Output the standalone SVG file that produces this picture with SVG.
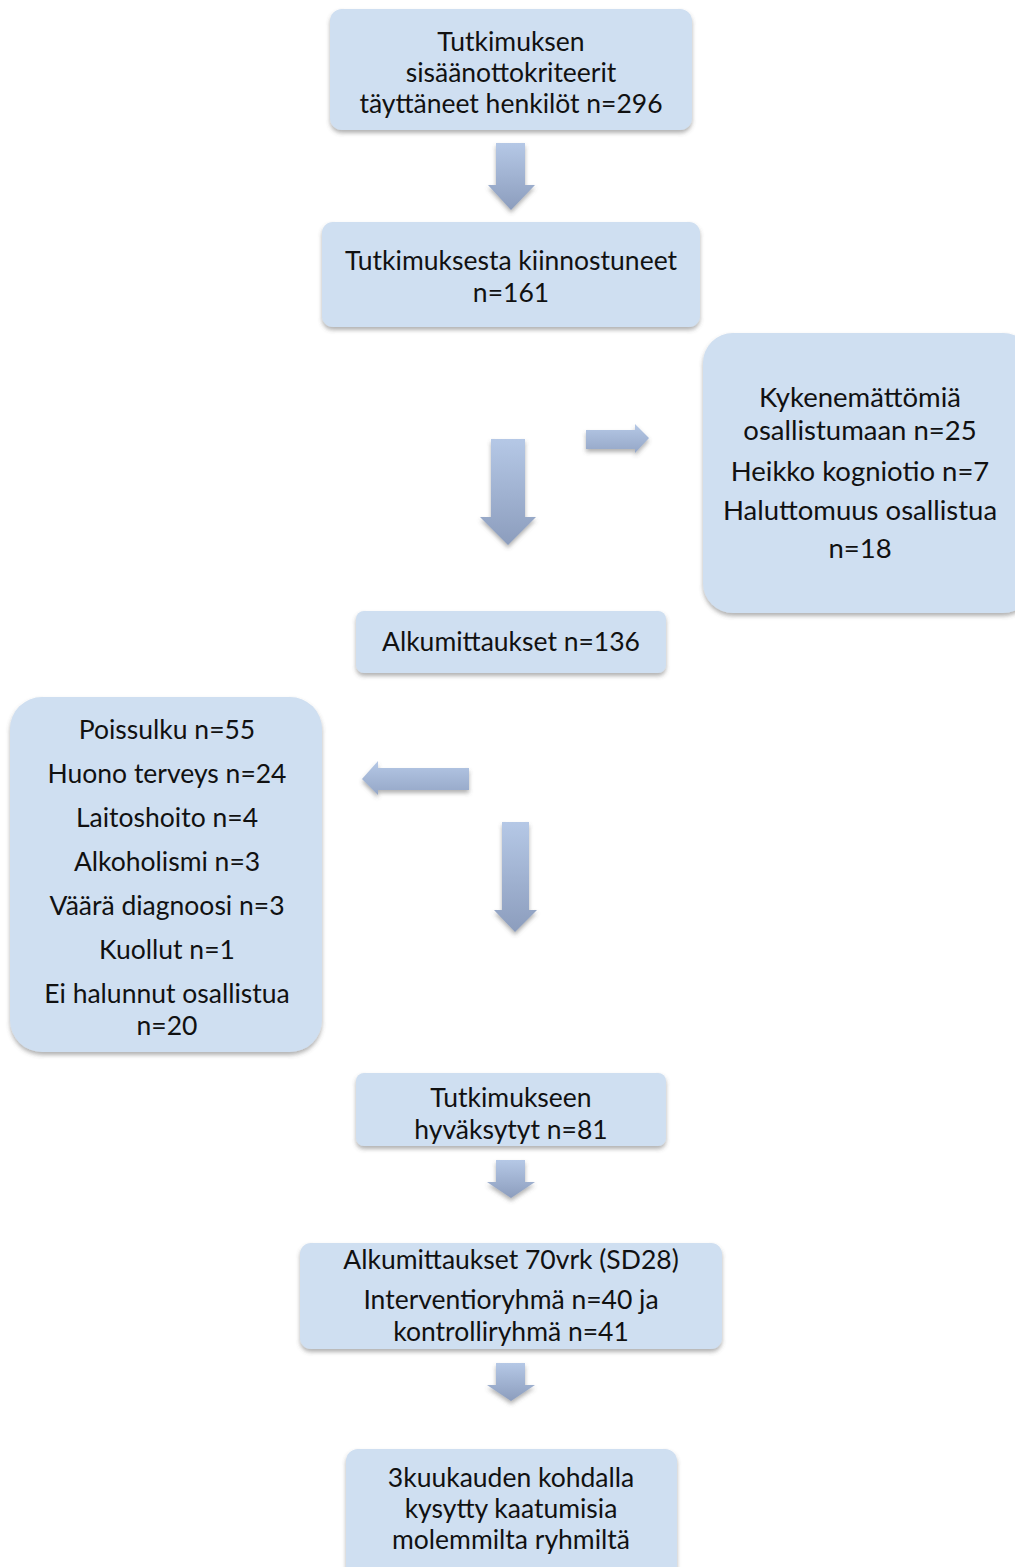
<svg xmlns="http://www.w3.org/2000/svg" width="1015" height="1567" viewBox="0 0 1015 1567">
<defs>
<filter id="sh" x="-10%" y="-10%" width="120%" height="130%">
<feDropShadow dx="0" dy="3" stdDeviation="2" flood-color="#555" flood-opacity="0.45"/>
</filter>
<linearGradient id="gv" x1="0" y1="0" x2="0" y2="1">
<stop offset="0" stop-color="#b5c8e6"/>
<stop offset="1" stop-color="#8c9dbd"/>
</linearGradient>
<linearGradient id="gh" x1="0" y1="0" x2="0" y2="1">
<stop offset="0" stop-color="#b5c8e6"/>
<stop offset="1" stop-color="#95a7c7"/>
</linearGradient>
<style>
.box{fill:#cfdff1;filter:url(#sh);}
.t{font-family:Lato,"Liberation Sans",sans-serif;font-size:26.5px;fill:#111;text-anchor:middle;}
.big{font-size:27.5px;}
.av{fill:url(#gv);filter:url(#sh);}
.ah{fill:url(#gh);filter:url(#sh);}
</style>
</defs>
<g id="connectors">
<polygon class="av" points="496,143 525,143 525,185 535,185 511,210 488,185 496,185"/>
<polygon class="ah" points="586,430 635,430 635,424 649,438 635,453 635,449 586,449"/>
<polygon class="av" points="491,439 525,439 525,517 536,517 508,545 480,517 491,517"/>
<polygon class="ah" points="469,768 469,790 378,790 378,795 362,779 378,761 378,768"/>
<polygon class="av" points="502,822 529,822 529,910 537,910 515,932 494,910 502,910"/>
<polygon class="av" points="496,1160 525,1160 525,1182 535,1182 511,1198 487,1182 496,1182"/>
<polygon class="av" points="496,1363 525,1363 525,1385 535,1385 511,1401 487,1385 496,1385"/>
</g>
<g id="n1">
<rect class="box" x="330" y="9" width="362" height="121" rx="12"/>
<text class="t" x="511" y="51">Tutkimuksen</text>
<text class="t" x="511" y="82">sisäänottokriteerit</text>
<text class="t" x="511" y="113">täyttäneet henkilöt n=296</text>
</g>
<g id="n2">
<rect class="box" x="322" y="222" width="378" height="105" rx="11"/>
<text class="t" x="511" y="270">Tutkimuksesta kiinnostuneet</text>
<text class="t" x="511" y="302">n=161</text>
</g>
<g id="n3">
<rect class="box" x="703" y="333" width="330" height="280" rx="30"/>
<text class="t big" x="860" y="407">Kykenemättömiä</text>
<text class="t big" x="860" y="440">osallistumaan n=25</text>
<text class="t big" x="860" y="481">Heikko kogniotio n=7</text>
<text class="t big" x="860" y="520">Haluttomuus osallistua</text>
<text class="t big" x="860" y="558">n=18</text>
</g>
<g id="n4">
<rect class="box" x="356" y="611" width="310" height="62" rx="8"/>
<text class="t" x="511" y="651">Alkumittaukset n=136</text>
</g>
<g id="n5">
<rect class="box" x="10" y="697" width="312" height="355" rx="32"/>
<text class="t" x="167" y="739">Poissulku n=55</text>
<text class="t" x="167" y="783">Huono terveys n=24</text>
<text class="t" x="167" y="827">Laitoshoito n=4</text>
<text class="t" x="167" y="871">Alkoholismi n=3</text>
<text class="t" x="167" y="915">Väärä diagnoosi n=3</text>
<text class="t" x="167" y="959">Kuollut n=1</text>
<text class="t" x="167" y="1003">Ei halunnut osallistua</text>
<text class="t" x="167" y="1035">n=20</text>
</g>
<g id="n6">
<rect class="box" x="356" y="1073" width="310" height="73" rx="8"/>
<text class="t" x="511" y="1107">Tutkimukseen</text>
<text class="t" x="511" y="1139">hyväksytyt n=81</text>
</g>
<g id="n7">
<rect class="box" x="300" y="1243" width="422" height="106" rx="11"/>
<text class="t" x="511" y="1269">Alkumittaukset 70vrk (SD28)</text>
<text class="t" x="511" y="1309">Interventioryhmä n=40 ja</text>
<text class="t" x="511" y="1341">kontrolliryhmä n=41</text>
</g>
<g id="n8">
<rect class="box" x="346" y="1449" width="331" height="130" rx="12"/>
<text class="t" x="511" y="1487">3kuukauden kohdalla</text>
<text class="t" x="511" y="1518">kysytty kaatumisia</text>
<text class="t" x="511" y="1549">molemmilta ryhmiltä</text>
</g>
</svg>
